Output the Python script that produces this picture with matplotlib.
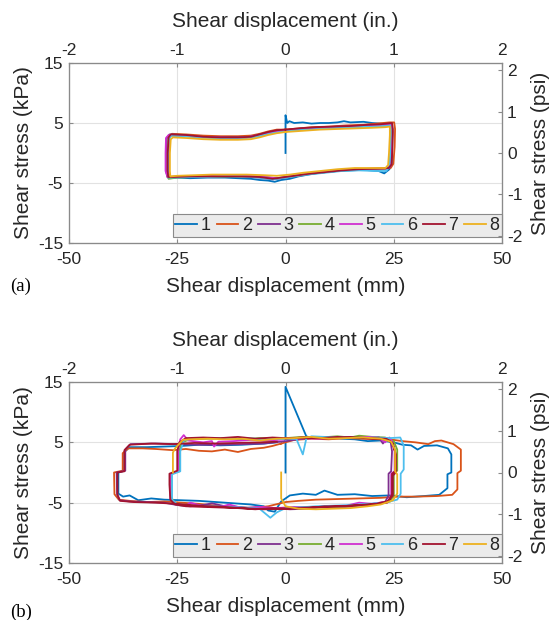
import numpy as np
import matplotlib.pyplot as plt

plt.rcParams['font.family'] = ['Liberation Sans', 'DejaVu Sans']
plt.rcParams['axes.unicode_minus'] = False

# cycle colours and legend labels
colors = ['#0072BD', '#D95319', '#7E2F8E', '#77AC30', '#D02FD0', '#4DBEEE', '#A2142F', '#EDB120']
labels = ['1', '2', '3', '4', '5', '6', '7', '8']

# tick values
mm_ticks = [-50, -25, 0, 25, 50]
kpa_ticks = [-15, -5, 5, 15]
in_ticks = [-2, -1, 0, 1, 2]
psi_ticks = [-2, -1, 0, 1, 2]
KPA_PER_PSI = 6.895

# (a) shear displacement (mm), shear stress (kPa) for cycles 1-8
a_cycle1 = [(0, 0), (0, 6.3), (0.4, 5.0), (0.9, 5.3), (2, 5.0), (4, 5.1), (6, 4.9), (8, 5.0), (10, 5.0),
            (12, 5.1), (13.5, 5.3), (15, 5.1), (18, 5.2), (20, 5.0), (22, 4.9), (24.3, 4.8), (24.6, 4.0),
            (24.6, 1.0), (24.5, -1.8), (24, -2.7), (22.8, -3.4), (21.5, -3.0), (18, -2.8), (15, -2.9),
            (12, -3.0), (9, -3.2), (6, -3.5), (3, -3.9), (1, -4.3), (-1, -4.5), (-2.5, -4.8), (-4, -4.6),
            (-6, -4.5), (-8, -4.3), (-11, -4.2), (-14, -4.1), (-18, -4.1), (-22, -4.2), (-25, -4.1),
            (-27, -4.2), (-27.2, -3.2), (-27.2, 0), (-27.0, 2.5), (-26.5, 3.0), (-24, 3.0), (-20, 2.8),
            (-16, 2.6), (-12, 2.6), (-8, 2.7), (-6, 3.0), (-4, 3.4), (-2, 3.7), (0, 3.8)]
a_cycle2 = [(0, 3.9), (3, 4.1), (6, 4.3), (10, 4.4), (14, 4.6), (18, 4.7), (21, 4.9), (24, 5.1), (25.1, 5.1),
            (25.3, 4.0), (25.2, 1.0), (24.9, -1.8), (24.3, -2.5), (22, -2.6), (18, -2.7), (14, -2.8),
            (10, -3.1), (6, -3.4), (3, -3.8), (0, -4.0), (-2, -4.3), (-4, -4.1), (-8, -3.9), (-12, -3.8),
            (-16, -3.8), (-20, -3.9), (-24, -3.9), (-26.5, -4.0), (-27.0, -3.5), (-27.0, 0), (-26.8, 2.6),
            (-26.2, 3.2), (-23, 3.1), (-19, 2.9), (-15, 2.8), (-11, 2.8), (-8, 2.9), (-6, 3.2), (-4, 3.6),
            (-2, 3.9), (0, 3.9)]
a_cycle3 = [(0, 3.8), (4, 4.1), (8, 4.2), (12, 4.4), (16, 4.4), (20, 4.6), (23, 4.7), (24.5, 4.7),
            (24.7, 3.5), (24.6, 0.5), (24.4, -2.0), (23.8, -2.6), (21, -2.6), (17, -2.7), (13, -2.9),
            (9, -3.2), (5, -3.5), (2, -3.8), (-1, -4.2), (-3, -4.4), (-6, -4.1), (-10, -3.9), (-14, -3.8),
            (-18, -3.9), (-22, -3.9), (-25, -3.9), (-27.3, -4.0), (-27.6, -3.0), (-27.6, 0), (-27.5, 2.4),
            (-26.8, 3.1), (-24, 3.0), (-20, 2.7), (-16, 2.6), (-12, 2.6), (-9, 2.6), (-7, 2.9), (-4, 3.4),
            (-2, 3.7), (0, 3.8)]
a_cycle4 = [(0, 3.7), (4, 3.9), (8, 4.1), (12, 4.3), (16, 4.4), (20, 4.5), (23, 4.6), (24.3, 4.6),
            (24.4, 3.0), (24.3, 0), (24.2, -2.0), (23.5, -2.7), (20, -2.8), (16, -2.8), (12, -3.0),
            (8, -3.3), (4, -3.6), (1, -3.9), (-2, -4.2), (-5, -4.0), (-9, -3.9), (-13, -3.9), (-17, -4.0),
            (-21, -4.0), (-25, -4.1), (-27.0, -4.3), (-27.2, -3.5), (-27.2, 0), (-27.0, 2.4), (-26.6, 2.9),
            (-23, 2.8), (-19, 2.6), (-15, 2.5), (-11, 2.5), (-8, 2.6), (-6, 2.9), (-3, 3.4), (-1, 3.6),
            (0, 3.7)]
a_cycle5 = [(0, 3.8), (4, 4.0), (8, 4.2), (12, 4.3), (16, 4.5), (20, 4.6), (23, 4.7), (24.6, 4.8),
            (24.7, 3.5), (24.5, 0), (24.3, -2.1), (23.6, -2.6), (20, -2.6), (16, -2.7), (12, -3.0),
            (8, -3.2), (4, -3.6), (1, -3.9), (-2, -4.2), (-5, -4.0), (-9, -3.8), (-13, -3.8), (-17, -3.9),
            (-21, -3.9), (-25, -4.0), (-27.2, -4.0), (-27.7, -3.0), (-27.7, 0), (-27.6, 2.5), (-27.0, 3.0),
            (-24, 2.9), (-20, 2.7), (-16, 2.6), (-12, 2.5), (-9, 2.6), (-6, 3.0), (-4, 3.3), (-2, 3.6),
            (0, 3.8)]
a_cycle6 = [(0, 3.6), (4, 3.9), (8, 4.0), (12, 4.2), (16, 4.3), (20, 4.4), (23, 4.5), (24.2, 4.6),
            (24.3, 3.0), (24.2, 0), (24.0, -2.2), (23.3, -3.0), (21, -3.0), (17, -2.9), (13, -3.0),
            (9, -3.3), (5, -3.6), (2, -3.9), (-1, -4.2), (-3, -4.4), (-6, -4.1), (-10, -3.9), (-14, -3.9),
            (-18, -4.0), (-22, -4.0), (-26, -4.1), (-27.0, -4.1), (-27.1, -3.2), (-27.1, 0), (-26.9, 2.4),
            (-26.4, 2.9), (-23, 2.8), (-19, 2.6), (-15, 2.5), (-11, 2.5), (-8, 2.6), (-5, 3.0), (-3, 3.3),
            (-1, 3.5), (0, 3.6)]
a_cycle7 = [(0, 3.9), (3, 4.1), (7, 4.3), (11, 4.4), (15, 4.5), (19, 4.7), (22, 4.8), (24.6, 5.0),
            (24.8, 4.0), (24.7, 1.0), (24.5, -1.9), (23.8, -2.5), (21, -2.6), (17, -2.7), (13, -2.9),
            (9, -3.2), (5, -3.5), (2, -3.8), (-1, -4.1), (-3, -4.3), (-6, -4.0), (-10, -3.9), (-14, -3.9),
            (-18, -3.9), (-22, -3.9), (-26, -4.0), (-27.1, -4.0), (-27.2, -3.0), (-27.2, 0), (-27.0, 2.6),
            (-26.5, 3.1), (-23, 3.0), (-19, 2.7), (-15, 2.6), (-11, 2.6), (-8, 2.7), (-6, 3.1), (-4, 3.5),
            (-2, 3.8), (0, 3.9)]
a_cycle8 = [(0, 3.5), (4, 3.7), (8, 3.9), (12, 4.0), (16, 4.1), (20, 4.2), (23, 4.3), (24.1, 4.4),
            (24.1, 3.0), (23.9, 0), (23.7, -2.0), (23.1, -2.5), (20, -2.5), (16, -2.5), (12, -2.7),
            (8, -3.0), (4, -3.3), (1, -3.6), (-2, -3.8), (-5, -3.7), (-9, -3.6), (-13, -3.6), (-17, -3.6),
            (-21, -3.7), (-25, -3.8), (-26.6, -3.9), (-26.7, -3.0), (-26.7, 0), (-26.5, 2.3), (-26.0, 2.6),
            (-23, 2.5), (-19, 2.3), (-15, 2.2), (-11, 2.2), (-8, 2.3), (-6, 2.6), (-4, 3.0), (-2, 3.3),
            (0, 3.5)]

# (b) shear displacement (mm), shear stress (kPa) for cycles 1-8
b_cycle1 = [(0, 0), (0, 14.2), (4.8, 6.0), (6, 5.7), (9, 5.9), (13, 5.6), (16, 5.5), (19, 5.2), (22, 5.3),
            (25, 5.0), (27, 4.6), (29, 4.5), (30.5, 3.8), (32, 4.4), (35, 4.5), (37.5, 4.0), (38.3, 3.0),
            (38.3, 0), (37.4, -0.3), (37.4, -2.6), (35.5, -3.7), (32, -3.9), (28, -4.1), (24, -3.8),
            (20, -3.9), (16, -3.6), (12, -3.7), (9, -3.0), (7, -3.7), (4, -3.5), (1, -3.8), (-1, -4.8),
            (-2.5, -6.5), (-4, -6.3), (-5, -5.6), (-8, -5.3), (-12, -5.1), (-16, -4.9), (-20, -4.7),
            (-24, -4.6), (-28, -4.5), (-31, -4.3), (-34, -4.6), (-36, -3.8), (-37.5, -4.0), (-38.6, -3.5),
            (-38.6, 0), (-37.2, 0.3), (-37.2, 3.4), (-36, 4.2), (-32, 4.2), (-28, 4.3), (-24, 4.4),
            (-20, 4.6), (-15, 4.5), (-10, 4.6), (-5, 4.8), (-2, 5.0)]
b_cycle2 = [(-1, 4.8), (2, 5.4), (6, 5.6), (10, 5.5), (14, 5.7), (18, 5.6), (22, 5.5), (25, 5.4), (27, 5.2),
            (30, 5.0), (33, 4.7), (34.5, 5.2), (36, 5.3), (38.8, 4.7), (40.5, 3.8), (40.5, 0.3),
            (39.7, -0.1), (39.7, -2.8), (38.5, -3.7), (35, -3.9), (30, -4.0), (26, -4.0), (22, -4.2),
            (17, -4.3), (12, -4.4), (7, -4.5), (3, -4.7), (0, -4.9), (-4, -5.6), (-8, -5.9), (-12, -5.7),
            (-16, -5.5), (-20, -5.2), (-24, -5.0), (-28, -4.8), (-32, -4.9), (-36, -4.7), (-38.5, -4.5),
            (-39.5, -3.6), (-39.6, 0), (-37.6, 0.3), (-37.6, 3.2), (-36.3, 4.0), (-33, 4.0), (-30, 3.9),
            (-26, 3.7), (-23, 3.9), (-20, 3.6), (-17, 3.5), (-14, 3.8), (-11, 3.4), (-8, 3.9), (-5, 4.1),
            (-3, 4.4), (-1, 4.8)]
b_cycle3 = [(0, 5.2), (4, 5.6), (8, 5.8), (12, 5.7), (16, 5.9), (19, 5.7), (21.5, 5.9), (22.5, 4.8),
            (23.5, 5.7), (24.3, 5.0), (24.6, 3.5), (24.4, 0.2), (23.8, -0.2), (23.8, -3.8), (23.0, -4.9),
            (20, -5.2), (17, -5.5), (13, -5.8), (9, -5.7), (5, -6.0), (1, -6.1), (-3, -5.9), (-7, -6.0),
            (-11, -5.7), (-14, -5.6), (-17, -5.1), (-19, -5.4), (-22, -5.6), (-25, -5.4), (-28, -5.0),
            (-32, -4.9), (-36, -4.8), (-38.3, -4.6), (-38.9, -3.6), (-39.0, 0), (-37.0, 0.3), (-37.0, 3.8),
            (-35.8, 4.7), (-30, 4.8), (-25, 4.7), (-20, 4.6), (-15, 4.6), (-10, 4.7), (-5, 4.8), (0, 5.2)]
b_cycle4 = [(0, 5.7), (4, 5.9), (8, 5.8), (12, 6.0), (15, 5.8), (17, 6.1), (20, 5.9), (23, 5.8), (25.0, 5.2),
            (25.8, 3.8), (25.8, 0.3), (25.0, -0.1), (25.0, -3.7), (24.2, -4.8), (21, -5.3), (17, -5.4),
            (13, -5.6), (9, -5.8), (5, -5.7), (1, -5.9), (-3, -6.0), (-7, -5.8), (-11, -5.9), (-15, -5.7),
            (-19, -5.6), (-23, -5.5), (-25.5, -5.1), (-26.5, -4.0), (-26.5, -0.2), (-24.5, 0.2),
            (-24.5, 3.6), (-24.0, 5.0), (-22, 5.5), (-18, 5.6), (-14, 5.7), (-10, 5.5), (-6, 5.7),
            (-2, 5.6), (0, 5.7)]
b_cycle5 = [(0, 5.5), (4, 5.7), (8, 5.6), (12, 5.8), (16, 5.7), (19, 5.9), (21.5, 5.8), (23, 5.0), (24, 5.8),
            (24.6, 5.2), (25.2, 3.5), (25.2, 0.2), (24.4, -0.2), (24.4, -3.8), (23.6, -4.8), (20, -5.2),
            (17, -5.0), (14, -5.5), (10, -5.6), (6, -5.8), (2, -5.7), (-2, -5.9), (-6, -5.7), (-10, -5.9),
            (-13, -5.3), (-15, -5.7), (-19, -5.6), (-22, -5.0), (-23, -5.5), (-25.5, -5.2), (-26.6, -4.3),
            (-26.6, -0.3), (-24.8, 0.2), (-24.8, 3.8), (-24.3, 5.5), (-23.5, 6.2), (-22.5, 5.3), (-19, 5.0),
            (-17, 5.2), (-16.5, 4.3), (-15.5, 5.1), (-12, 5.2), (-8, 5.4), (-4, 5.3), (0, 5.5)]
b_cycle6 = [(0, 5.5), (2.5, 5.6), (4.0, 3.0), (4.8, 5.6), (6, 6.0), (9, 5.9), (13, 5.8), (17, 5.7),
            (21, 5.8), (24, 5.7), (26.5, 5.8), (27.3, 4.5), (27.3, 0.5), (26.6, -0.2), (26.6, -3.5),
            (25.8, -4.5), (23, -5.0), (19, -5.2), (15, -5.4), (11, -5.5), (7, -5.6), (3, -5.8), (0, -5.9),
            (-2, -6.6), (-3.5, -7.5), (-5, -6.6), (-6, -6.0), (-10, -5.8), (-14, -5.7), (-18, -5.6),
            (-22, -5.5), (-25, -5.3), (-26.2, -4.5), (-26.2, -0.3), (-24.3, 0.2), (-24.3, 3.5),
            (-23.5, 5.3), (-21, 5.7), (-17, 5.7), (-13, 5.6), (-9, 5.7), (-5, 5.5), (-2, 5.6), (0, 5.5)]
b_cycle7 = [(0, 5.6), (4, 5.8), (8, 5.7), (12, 5.9), (16, 5.8), (20, 5.7), (23, 5.6), (24.6, 5.0),
            (25.3, 3.5), (25.3, 0.2), (24.6, -0.2), (24.6, -3.6), (23.8, -4.7), (21, -5.2), (17, -5.4),
            (13, -5.6), (9, -5.6), (5, -5.9), (1, -6.0), (-3, -5.9), (-7, -6.1), (-11, -5.9), (-15, -5.8),
            (-19, -5.7), (-23, -5.6), (-25.5, -5.3), (-26.6, -4.5), (-26.8, -2.0), (-26.8, -0.2),
            (-25.0, 0.3), (-25.0, 3.5), (-24.5, 5.0), (-23, 5.7), (-19, 5.8), (-15, 5.7), (-11, 5.9),
            (-7, 5.6), (-3, 5.8), (0, 5.7), (5, 5.8), (10, 5.6), (15, 5.8), (20, 5.6), (23.5, 5.5),
            (24.8, 4.8), (25.5, 3.0), (25.5, 0), (24.8, -0.5), (24.8, -3.8), (23.5, -5.0), (20, -5.3),
            (15, -5.5), (10, -5.7), (5, -5.8), (0, -6.0), (-5, -6.1), (-10, -5.9), (-15, -5.7), (-20, -5.5),
            (-25, -5.2), (-30, -5.0), (-35, -4.9), (-38.2, -4.7), (-38.8, -3.7), (-38.8, 0), (-37.2, 0.2),
            (-37.2, 3.7), (-36, 4.6), (-31, 4.8), (-26, 4.7), (-21, 4.9), (-16, 4.8), (-11, 4.9), (-6, 5.0),
            (-2, 5.1)]
b_cycle8 = [(-1, 0), (-1, -4.3), (0, -5.6), (3, -6.0), (7, -6.1), (11, -6.0), (15, -5.9), (19, -5.6),
            (22, -5.3), (24.8, -4.6), (25.8, -3.5), (25.8, -0.3), (25.3, 0.2), (25.3, 3.8), (24.4, 5.1),
            (22, 5.6), (18, 5.8), (14, 5.7), (10, 5.6), (6, 5.9), (2, 5.7), (-2, 5.6), (-6, 5.3), (-10, 5.6),
            (-14, 5.5), (-18, 5.6), (-22, 5.5), (-23.7, 5.4), (-25.5, 4.0), (-26.0, 3.3), (-26.0, 0)]

cycles_a = [a_cycle1, a_cycle2, a_cycle3, a_cycle4, a_cycle5, a_cycle6, a_cycle7, a_cycle8]
cycles_b = [b_cycle1, b_cycle2, b_cycle3, b_cycle4, b_cycle5, b_cycle6, b_cycle7, b_cycle8]

SPINE = '#8a8a8a'
TXT = '#262626'


def draw_panel(fig, rect, cycles, tag, tag_y):
    ax = fig.add_axes(rect)
    for pts, c, lab in zip(cycles, colors, labels):
        xy = np.array(pts)
        ax.plot(xy[:, 0], xy[:, 1], color=c, lw=1.3, label=lab)
    ax.set_xlim(-50, 50)
    ax.set_ylim(-15, 15)
    ax.set_xticks(mm_ticks)
    ax.set_yticks(kpa_ticks)
    ax.set_axisbelow(True)
    ax.grid(True, color='#e2e2e2', lw=0.8)
    ax.tick_params(axis='x', direction='in', length=3, labelsize=12.5, pad=6.5, colors=SPINE, labelcolor=TXT)
    ax.tick_params(axis='y', direction='in', length=3, labelsize=12.5, pad=4.3, colors=SPINE, labelcolor=TXT)
    ax.set_xlabel('Shear displacement (mm)', fontsize=15, color=TXT, va='center')
    ax.xaxis.set_label_coords(0.5, -0.24)
    ax.set_ylabel('Shear stress (kPa)', fontsize=15, color=TXT, va='center')
    ax.yaxis.set_label_coords(-0.106, 0.5)

    # inch scale along the top
    top = ax.twiny()
    top.set_xlim(-2, 2)
    top.set_xticks(in_ticks)
    top.tick_params(axis='x', direction='in', length=3, labelsize=12.5, pad=3.6, colors=SPINE, labelcolor=TXT)
    top.set_xlabel('Shear displacement (in.)', fontsize=15, color=TXT, va='center')
    top.xaxis.set_label_coords(0.5, 1.23)

    # psi scale on the right
    right = ax.twinx()
    right.set_ylim(-15 / KPA_PER_PSI, 15 / KPA_PER_PSI)
    right.set_yticks(psi_ticks)
    right.tick_params(axis='y', direction='in', length=3, labelsize=12.5, pad=3.6, colors=SPINE, labelcolor=TXT)
    right.set_ylabel('Shear stress (psi)', fontsize=15, color=TXT, va='center')
    right.yaxis.set_label_coords(1.088, 0.5)

    for a in (ax, top, right):
        for s in a.spines.values():
            s.set_color(SPINE)
            s.set_linewidth(0.8)

    leg = ax.legend(ncol=8, loc='lower right', bbox_to_anchor=(1.0, 0.035), borderaxespad=0,
                    handlelength=1.2, handletextpad=0.2, columnspacing=0.33, fontsize=13,
                    fancybox=False, framealpha=1, facecolor='#ebebeb', edgecolor=SPINE, borderpad=0.15)
    for t in leg.get_texts():
        t.set_color(TXT)
    leg.get_frame().set_linewidth(0.8)
    leg.set_zorder(10)

    fig.text(10 / 553, 1 - tag_y / 620, tag, family='Liberation Serif', fontsize=13.5,
             color='black', ha='left', va='center')
    return ax


fig = plt.figure(figsize=(5.53, 6.20), dpi=100)
draw_panel(fig, [69 / 553, 1 - 243 / 620, 433 / 553, 180 / 620], cycles_a, '(a)', 286)
draw_panel(fig, [69 / 553, 1 - 563 / 620, 433 / 553, 181 / 620], cycles_b, '(b)', 612)
fig.savefig('out.png', dpi=100)
